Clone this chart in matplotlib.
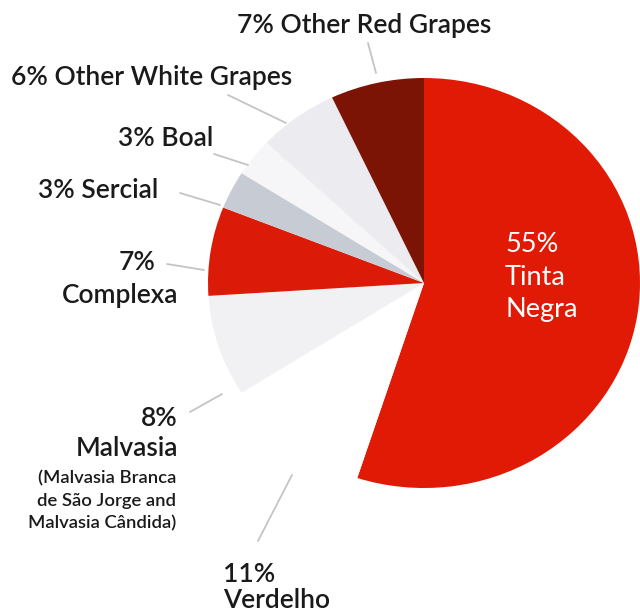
import matplotlib
matplotlib.use("Agg")
import matplotlib.pyplot as plt

# grape variety shares (%), clockwise from 12 o'clock
grapes = ["Tinta Negra", "Verdelho", "Malvasia", "Complexa", "Sercial",
          "Boal", "Other White Grapes", "Other Red Grapes"]
shares = [55, 11, 8, 7, 3, 3, 6, 7]
colors = ["#e01a04", "#ffffff", "#f1f1f4", "#dc1a08", "#c6cbd4",
          "#f6f5f7", "#ececf0", "#7c1406"]

plt.rcParams["font.family"] = ["Lato", "DejaVu Sans"]

W, H = 640, 616
fig = plt.figure(figsize=(W / 100, H / 100), dpi=100)

# pie axes sized in pixels (slightly wider than tall, like the scan)
cx, cy, rx, ry = 424, 283, 216, 205
pax = fig.add_axes([(cx - rx) / W, (H - cy - ry) / H, 2 * rx / W, 2 * ry / H])
pax.pie(shares, colors=colors, startangle=90, counterclock=False,
        radius=1, frame=True, wedgeprops=dict(linewidth=0))
pax.set_xlim(-1, 1)
pax.set_ylim(-1, 1)
pax.set_aspect("auto")
pax.axis("off")

# overlay in pixel coordinates for labels and leader lines
ax = fig.add_axes([0, 0, 1, 1])
ax.set_xlim(0, W)
ax.set_ylim(H, 0)
ax.axis("off")
ax.patch.set_alpha(0)

lc = "#c4c4c4"
lw = 1.3
leaders = [
    ((368, 43), (376, 73)),
    ((228, 95), (286, 123)),
    ((214, 154), (248, 165)),
    ((180, 193), (220, 205)),
    ((167, 264), (204, 270)),
    ((190, 412), (222, 394)),
    ((258, 541), (292, 475)),
]
for (x0, y0), (x1, y1) in leaders:
    ax.plot([x0, x1], [y0, y1], color=lc, lw=lw, solid_capstyle="round")

fs = 19
fw = "semibold"
tc = "#1a1a1a"
kw = dict(fontsize=fs, color=tc, va="center", fontweight=fw)
ax.text(364, 25, "7% Other Red Grapes", ha="center", **kw)
ax.text(152, 78, "6% Other White Grapes", ha="center", **kw)
ax.text(166, 138, "3% Boal", ha="center", **kw)
ax.text(98, 190, "3% Sercial", ha="center", **kw)
ax.text(156, 263, "7%", ha="right", **kw)
ax.text(178, 295, "Complexa", ha="right", **kw)
ax.text(178, 418, "8%", ha="right", **kw)
ax.text(178, 449, "Malvasia", ha="right", **kw)
kw2 = dict(fontsize=13.3, color=tc, va="center", fontweight=fw, ha="right")
ax.text(176, 478, "(Malvasia Branca", **kw2)
ax.text(176, 501, "de São Jorge and", **kw2)
ax.text(176, 523, "Malvasia Cândida)", **kw2)
ax.text(223, 574, "11%", ha="left", **kw)
ax.text(223, 601, "Verdelho", ha="left", **kw)

for i, line in enumerate(["55%", "Tinta", "Negra"]):
    ax.text(505, 245 + i * 32.5, line, fontsize=19.5, color="white",
            ha="left", va="center")

fig.savefig("out.png", dpi=100, facecolor="white")
